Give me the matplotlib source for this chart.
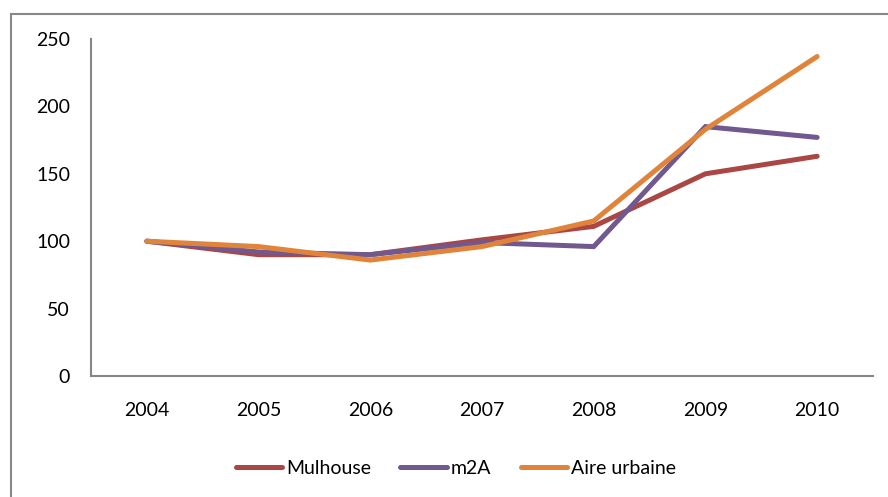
import matplotlib.pyplot as plt
from matplotlib.patches import Rectangle

# index values, base 100 in 2004
years = ["2004", "2005", "2006", "2007", "2008", "2009", "2010"]
mulhouse = [100, 90, 90, 101, 111, 150, 163]
m2a = [100, 92, 90, 99, 96, 185, 177]
aire_urbaine = [100, 96, 86, 96, 115, 183, 237]

series_names = ["Mulhouse", "m2A", "Aire urbaine"]
colors = ["#AA4643", "#71588F", "#E0843B"]

plt.rcParams['font.family'] = ['Lato', 'DejaVu Sans']

W, H = 888, 497
fig = plt.figure(figsize=(W / 100, H / 100), dpi=100)
ax = fig.add_axes([91 / W, 1 - 376 / H, (873 - 91) / W, (376 - 39) / H])

x = list(range(len(years)))
for vals, name, c in zip([mulhouse, m2a, aire_urbaine], series_names, colors):
	ax.plot(x, vals, color=c, lw=3.6, label=name, solid_capstyle='round', solid_joinstyle='miter')

ax.set_xlim(-0.5, len(years) - 0.5)
ax.set_ylim(0, 250)
ax.set_yticks(range(0, 251, 50))
ax.set_xticks(x)
ax.set_xticklabels(years)

for side in ["top", "right"]:
	ax.spines[side].set_visible(False)
for side in ["left", "bottom"]:
	ax.spines[side].set_color("#868686")
	ax.spines[side].set_linewidth(1.5)
ax.tick_params(axis='y', length=0, pad=15, labelsize=14)
ax.tick_params(axis='x', length=0, pad=19, labelsize=14)

leg = fig.legend(loc='center', bbox_to_anchor=(456 / W, 1 - 468 / H), ncol=3, frameon=False,
	fontsize=14, handlelength=2.4, handletextpad=0.2, columnspacing=1.5)
for line in leg.get_lines():
	line.set_linewidth(3.6)

# outer chart border (only left and top visible in the crop)
fig.patches.append(Rectangle((10.5 / W, -0.1), 1.2, 1.1 - 13.5 / H, transform=fig.transFigure,
	fill=False, edgecolor="#888888", lw=1.5))

fig.savefig("out.png", dpi=100, facecolor="white")
